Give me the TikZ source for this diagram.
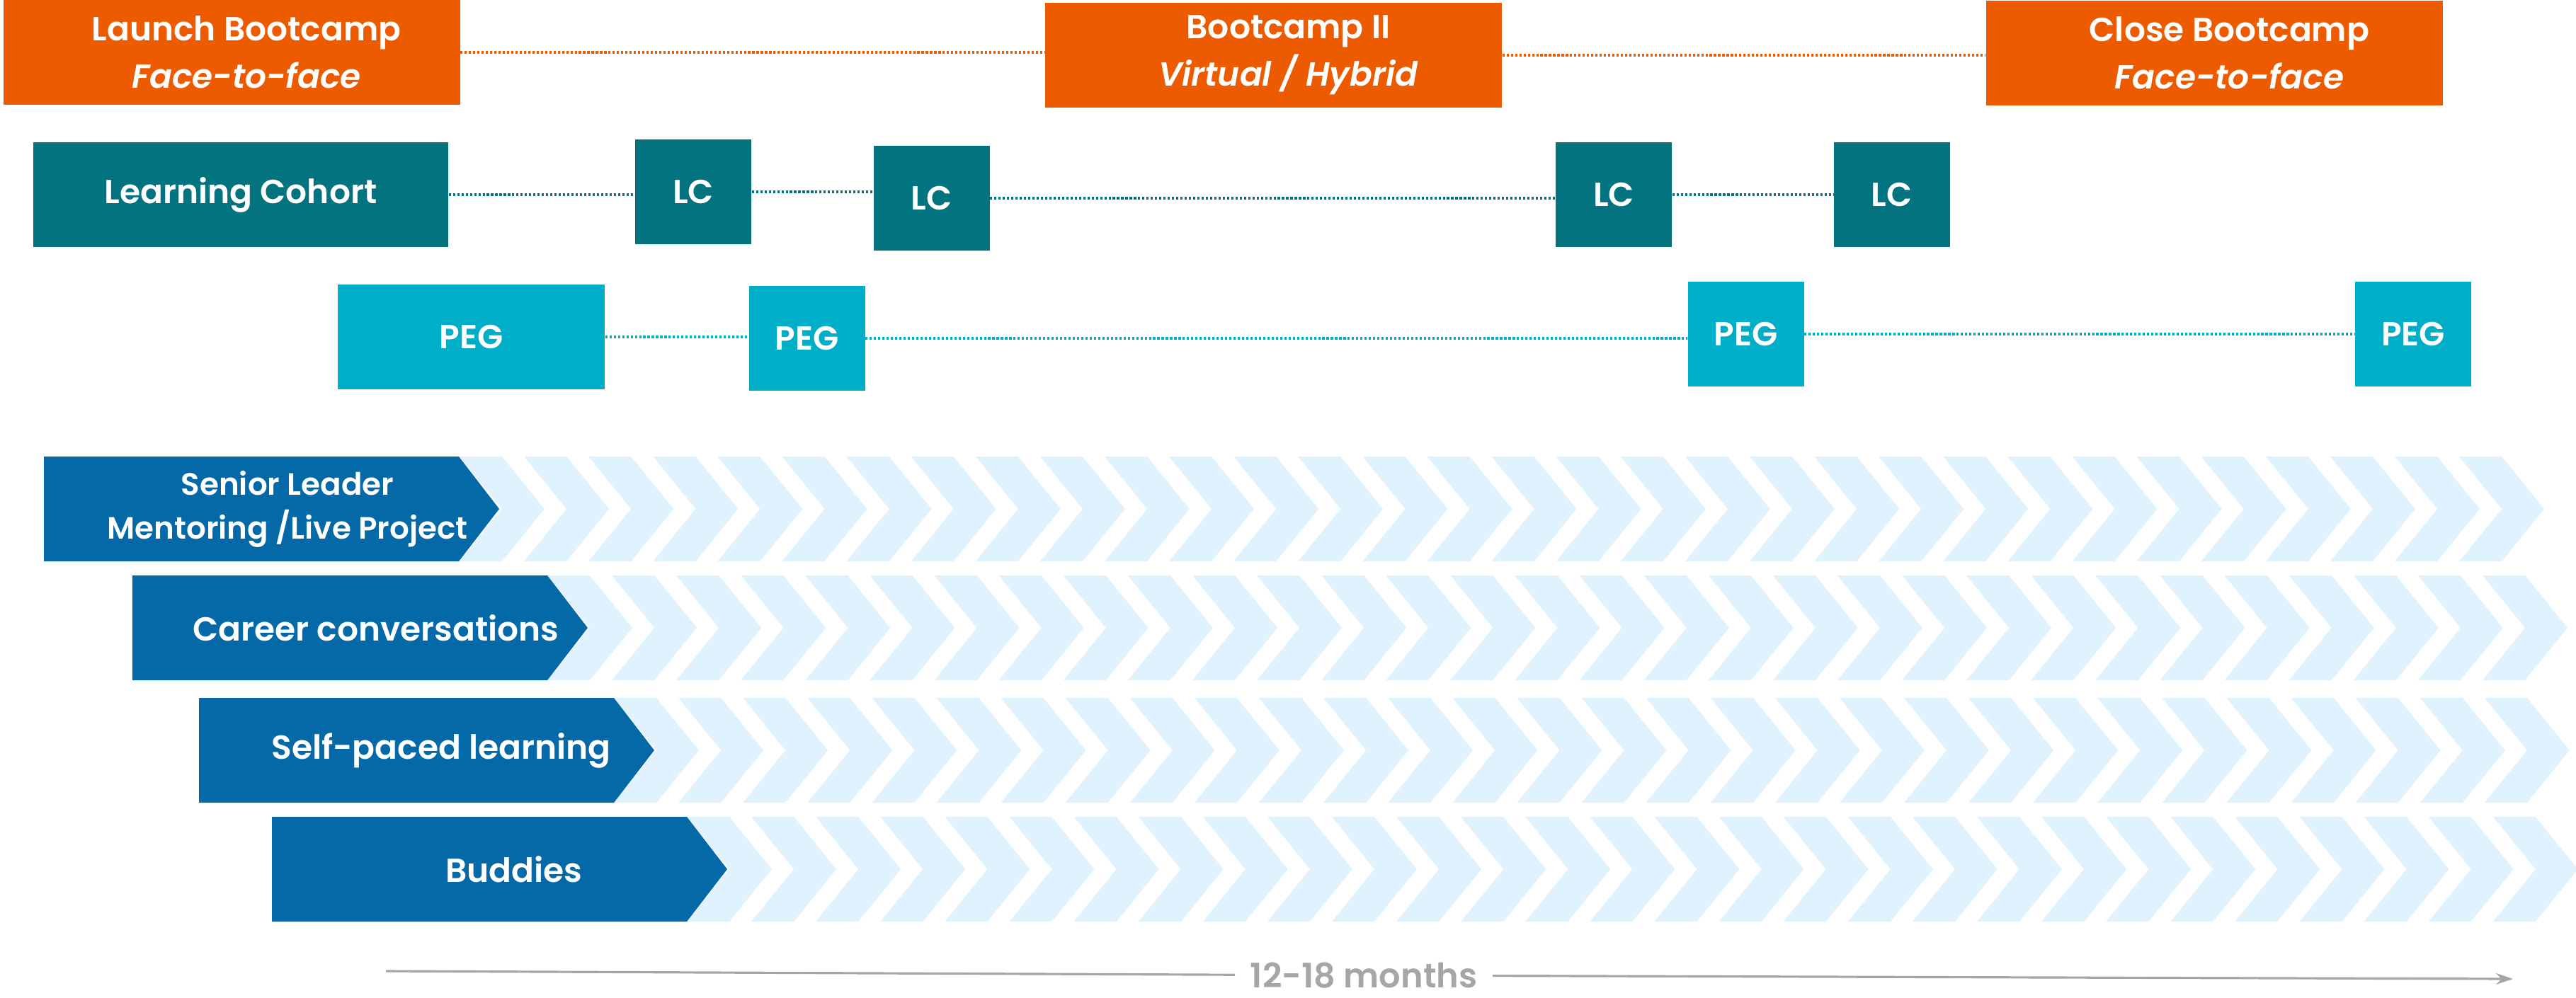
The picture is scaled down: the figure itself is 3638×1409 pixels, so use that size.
\documentclass[tikz,border=0pt]{standalone}
\usepackage{fontspec}
\setmainfont{Poppins}[UprightFont=* SemiBold,ItalicFont=* SemiBold Italic]
\usepackage{tikz}
\usetikzlibrary{positioning,arrows.meta}
\definecolor{campor}{HTML}{EC5B00}
\definecolor{lcteal}{HTML}{037380}
\definecolor{pegcyan}{HTML}{00AFC7}
\definecolor{trackblue}{HTML}{0469A6}
\definecolor{chevfill}{HTML}{E0F2FD}
\definecolor{spangray}{HTML}{A6A6A6}
\tikzset{
  block/.style={inner sep=0pt,minimum height=14.8mm,text=white,align=center,font=\fontsize{13.4}{19}\selectfont},
  camp/.style={block,fill=campor,minimum width=64.5mm},
  camptext/.style={text=white,align=center,inner sep=0pt,font=\fontsize{13.4}{19}\selectfont},
  cohort/.style={block,fill=lcteal,minimum width=16.4mm},
  peg/.style={block,fill=pegcyan,minimum width=16.4mm},
  link/.style={line width=1.3pt,dash pattern=on 0.9pt off 0.8pt},
  chevron/.style={fill=chevfill},
  track/.style={fill=trackblue},
  tracklabel/.style={text=white,align=center,inner sep=0pt,font=\fontsize{13.4}{17.6}\selectfont},
  duration/.style={text=spangray,inner xsep=2.1mm,inner ysep=0pt,font=\fontsize{13.6}{17}\selectfont},
  spanline/.style={draw=spangray,line width=0.9pt}
}

\begin{document}
\begin{tikzpicture}[x=0.1mm,y=-0.1mm]
  \useasboundingbox (0,0) rectangle (3638,1409);

  % bootcamps
  \node[camp] (launch) at (327,74) {};
  \node[camptext] (launchtxt) at ([xshift=2.1mm]launch.center) {Launch Bootcamp\\\textit{Face-to-face}};
  \node[camp] (boot2) at (1798.5,78) {};
  \node[camptext] (boot2txt) at ([xshift=2.1mm]boot2.center) {Bootcamp II\\\textit{Virtual / Hybrid}};
  \node[camp] (close) at (3127.5,75) {};
  \node[camptext] (closetxt) at ([xshift=2.1mm]close.center) {Close Bootcamp\\\textit{Face-to-face}};
  \draw[link,campor] (launch.east) -- (launch.east -| boot2.west);
  \draw[link,campor] (boot2.east) -- (boot2.east -| close.west);

  % learning cohort
  \node[cohort,minimum width=58.6mm] (cohort) at (340,275) {Learning Cohort};
  \node[cohort] (lc1) at (979,271) {LC};
  \node[cohort] (lc2) at (1315.5,280) {LC};
  \node[cohort] (lc3) at (2279,275) {LC};
  \node[cohort] (lc4) at (2671.5,275) {LC};
  \draw[link,lcteal] (cohort.east) -- (cohort.east -| lc1.west);
  \draw[link,lcteal] (lc1.east) -- (lc1.east -| lc2.west);
  \draw[link,lcteal] (lc2.east) -- (lc2.east -| lc3.west);
  \draw[link,lcteal] (lc3.east) -- (lc3.east -| lc4.west);

  % peer groups
  \node[peg,minimum width=37.7mm] (peg1) at (665.5,476) {PEG};
  \node[peg] (peg2) at (1139.5,478) {PEG};
  \node[peg] (peg3) at (2465.5,472) {PEG};
  \node[peg] (peg4) at (3408,472) {PEG};
  \draw[link,pegcyan] (peg1.east) -- (peg1.east -| peg2.west);
  \draw[link,pegcyan] (peg2.east) -- (peg2.east -| peg3.west);
  \draw[link,pegcyan] (peg3.east) -- (peg3.east -| peg4.west);

  % chevron tracks
  \foreach \x/\y/\n in {649/645/31,773/813/30,867/986/29,970/1154/28}
    \foreach \i in {0,...,\n}
      \fill[chevron] ({\x+91.1*\i},\y) -- ++(60,0) -- ++(60,74) -- ++(-60,74)
        -- ++(-60,0) -- ++(60,-74) -- cycle;
  \foreach \x/\y in {62/645,187/813,281/986,384/1154}
    \fill[track] (\x,\y) -- ++(586,0) -- ++(57,74) -- ++(-57,74) -- ++(-586,0) -- cycle;
  \node[tracklabel,font=\fontsize{12.4}{17.6}\selectfont] (mentor) at (406,719) {Senior Leader\\Mentoring /Live Project};
  \node[tracklabel] (career) at (531,887) {Career conversations};
  \node[tracklabel] (selfpaced) at (623,1060) {Self-paced learning};
  \node[tracklabel] (buddies) at (726,1228) {Buddies};

  % duration
  \coordinate (spanstart) at (545,1372);
  \coordinate (spanend) at (3549,1383);
  \node[duration] (months) at (1926,1378) {12-18 months};
  \draw[spanline] (spanstart) -- (months);
  \draw[spanline,-{Stealth[length=2.4mm,width=1.6mm]}] (months) -- (spanend);
\end{tikzpicture}
\end{document}
